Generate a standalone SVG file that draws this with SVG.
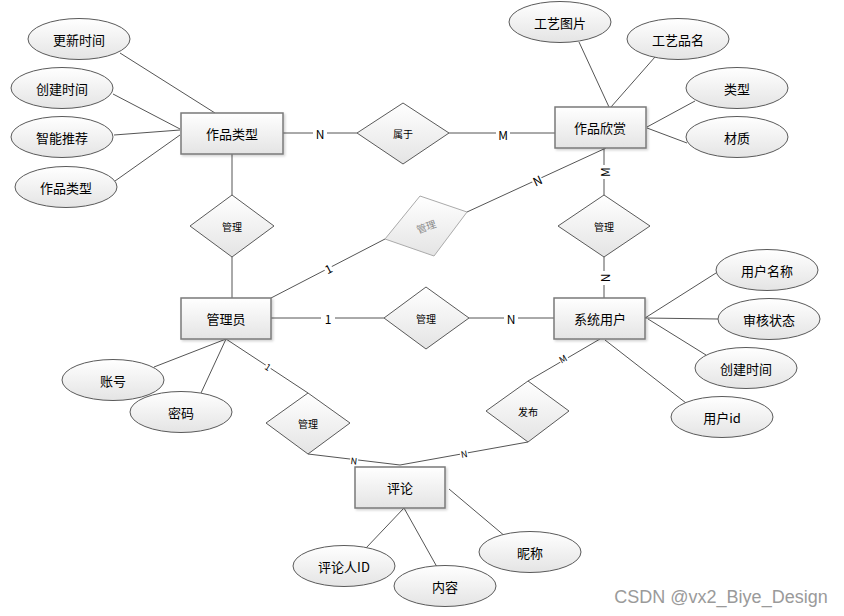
<svg xmlns="http://www.w3.org/2000/svg" width="844" height="616" viewBox="0 0 844 616">
<defs>
<linearGradient id="g" x1="0" y1="0" x2="0" y2="1">
<stop offset="0" stop-color="#ffffff"/>
<stop offset="1" stop-color="#e4e4e4"/>
</linearGradient>
<filter id="sh" x="-10%" y="-10%" width="125%" height="130%">
<feDropShadow dx="1.5" dy="1.5" stdDeviation="1" flood-color="#000" flood-opacity="0.18"/>
</filter>
</defs>
<style>
text{font-family:"Noto Sans CJK SC","Liberation Sans",sans-serif;fill:#000;text-anchor:middle;dominant-baseline:central}
.ent{fill:url(#g);stroke:#7a7a7a;stroke-width:1.5;filter:url(#sh)}
.att{fill:url(#g);stroke:#5a5a5a;stroke-width:1}
.rel{fill:url(#g);stroke:#5a5a5a;stroke-width:1}
.relg{fill:url(#g);stroke:#aaaaaa;stroke-width:1}
.et{font-size:13px}
.at{font-size:13px}
.rt{font-size:10px}
.lb{font-size:12px}
.sl{font-size:9px}
.bg{fill:#fff}
#connectors line{stroke:#555;stroke-width:1}
</style>
<rect width="844" height="616" fill="#fff"/>
<g id="connectors">
<line x1="120" y1="53" x2="215" y2="113"/>
<line x1="113" y1="94" x2="180" y2="129"/>
<line x1="114" y1="135" x2="180" y2="130"/>
<line x1="115" y1="181" x2="180" y2="135"/>
<line x1="283" y1="133" x2="357" y2="133"/>
<line x1="449" y1="133" x2="555" y2="133"/>
<line x1="232" y1="154" x2="232" y2="195"/>
<line x1="232" y1="257" x2="232" y2="298"/>
<line x1="579" y1="42" x2="609" y2="107"/>
<line x1="655" y1="57" x2="611" y2="107"/>
<line x1="695" y1="101" x2="647" y2="127"/>
<line x1="647" y1="128" x2="687" y2="143"/>
<line x1="604" y1="148" x2="604" y2="195"/>
<line x1="604" y1="257" x2="604" y2="298"/>
<line x1="271" y1="318" x2="384" y2="318"/>
<line x1="469" y1="318" x2="554" y2="318"/>
<line x1="271" y1="298" x2="385" y2="239"/>
<line x1="467" y1="212" x2="606" y2="148"/>
<line x1="645" y1="318" x2="716" y2="273"/>
<line x1="645" y1="318" x2="718" y2="319"/>
<line x1="648" y1="319" x2="706" y2="355"/>
<line x1="605" y1="340" x2="686" y2="403"/>
<line x1="600" y1="339" x2="528" y2="381"/>
<line x1="528" y1="442" x2="400" y2="465"/>
<line x1="226" y1="339" x2="308" y2="393"/>
<line x1="308" y1="454" x2="400" y2="465"/>
<line x1="226" y1="339" x2="154" y2="367"/>
<line x1="226" y1="339" x2="201" y2="393"/>
<line x1="404" y1="508" x2="366" y2="548"/>
<line x1="404" y1="508" x2="437" y2="567"/>
<line x1="449" y1="489" x2="506" y2="537"/>
</g>
<g id="labels">
<rect class="bg" x="313" y="126" width="14" height="14"/><text class="lb" x="320" y="133">N</text>
<rect class="bg" x="496" y="126" width="14" height="14"/><text class="lb" x="503" y="134">M</text>
<rect class="bg" x="598" y="165" width="12" height="14"/><text class="lb" x="604" y="172" transform="rotate(-90 604 172)">M</text>
<rect class="bg" x="598" y="271" width="12" height="14"/><text class="lb" x="604" y="278" transform="rotate(-90 604 278)">N</text>
<rect class="bg" x="321" y="311" width="14" height="14"/><text class="lb" x="328" y="318">1</text>
<rect class="bg" x="504" y="311" width="14" height="14"/><text class="lb" x="511" y="318">N</text>
<g transform="rotate(-27 328 268)"><rect class="bg" x="324" y="262" width="8" height="12"/><text class="lb" x="328" y="268">1</text></g>
<g transform="rotate(-25 537 180)"><rect class="bg" x="532" y="174" width="10" height="12"/><text class="lb" x="537" y="180">N</text></g>
<g transform="rotate(-30 563 359)"><rect class="bg" x="559" y="354" width="9" height="10"/><text class="sl" x="563" y="359">M</text></g>
<g transform="rotate(-10 464 454)"><rect class="bg" x="460" y="449" width="8" height="10"/><text class="sl" x="464" y="454">N</text></g>
<g transform="rotate(33 268 367)"><rect class="bg" x="265" y="362" width="6" height="10"/><text class="sl" x="268" y="367">1</text></g>
<g transform="rotate(7 354 461)"><rect class="bg" x="350" y="456" width="8" height="10"/><text class="sl" x="354" y="461">N</text></g>
</g>
<g id="e-zuopinleixing"><rect class="ent" x="181" y="113" width="102" height="41"/><text class="et" x="232" y="133">作品类型</text></g>
<g id="e-zuopinxinshang"><rect class="ent" x="555" y="107" width="91" height="41"/><text class="et" x="600" y="127">作品欣赏</text></g>
<g id="e-guanliyuan"><rect class="ent" x="181" y="298" width="90" height="41"/><text class="et" x="226" y="318">管理员</text></g>
<g id="e-xitongyonghu"><rect class="ent" x="554" y="298" width="91" height="41"/><text class="et" x="600" y="318">系统用户</text></g>
<g id="e-pinglun"><rect class="ent" x="355" y="467" width="90" height="41"/><text class="et" x="400" y="487">评论</text></g>
<g id="r-shuyu"><polygon class="rel" points="357,133 403,103 449,133 403,164"/><text class="rt" x="403" y="133">属于</text></g>
<g id="r-guanli1"><polygon class="rel" points="190,226 232,195 274,226 232,257"/><text class="rt" x="232" y="226">管理</text></g>
<g id="r-guanli2"><polygon class="rel" points="558,226 604,195 650,226 604,257"/><text class="rt" x="604" y="226">管理</text></g>
<g id="r-guanli3"><polygon class="rel" points="384,318 426,287 469,318 426,349"/><text class="rt" x="426" y="318">管理</text></g>
<g id="r-guanli4"><polygon class="relg" points="420,196 467,212 434,256 385,239"/><text class="rt" x="426" y="226" style="fill:#888" transform="rotate(-20 426 226)">管理</text></g>
<g id="r-guanli5"><polygon class="rel" points="266,423 308,393 350,423 308,454"/><text class="rt" x="308" y="423">管理</text></g>
<g id="r-fabu"><polygon class="rel" points="486,411 528,381 569,411 528,442"/><text class="rt" x="528" y="411">发布</text></g>
<g id="a-gengxinshijian"><ellipse class="att" cx="79" cy="39" rx="51" ry="20.5"/><text class="at" x="79" y="39">更新时间</text></g>
<g id="a-chuangjianshijian1"><ellipse class="att" cx="62" cy="88" rx="51" ry="20.5"/><text class="at" x="62" y="88">创建时间</text></g>
<g id="a-zhinengtuijian"><ellipse class="att" cx="62" cy="137" rx="51" ry="20.5"/><text class="at" x="62" y="137">智能推荐</text></g>
<g id="a-zuopinleixing"><ellipse class="att" cx="66" cy="187" rx="51" ry="20.5"/><text class="at" x="66" y="187">作品类型</text></g>
<g id="a-gongyitupian"><ellipse class="att" cx="560" cy="22" rx="51" ry="20.5"/><text class="at" x="560" y="22">工艺图片</text></g>
<g id="a-gongyipinming"><ellipse class="att" cx="678" cy="39" rx="51" ry="20.5"/><text class="at" x="678" y="39">工艺品名</text></g>
<g id="a-leixing"><ellipse class="att" cx="737" cy="88" rx="51" ry="20.5"/><text class="at" x="737" y="88">类型</text></g>
<g id="a-caizhi"><ellipse class="att" cx="737" cy="137" rx="51" ry="20.5"/><text class="at" x="737" y="137">材质</text></g>
<g id="a-yonghumingcheng"><ellipse class="att" cx="767" cy="270" rx="51" ry="20.5"/><text class="at" x="767" y="270">用户名称</text></g>
<g id="a-shenhezhuangtai"><ellipse class="att" cx="769" cy="319" rx="51" ry="20.5"/><text class="at" x="769" y="319">审核状态</text></g>
<g id="a-chuangjianshijian2"><ellipse class="att" cx="746" cy="368" rx="51" ry="20.5"/><text class="at" x="746" y="368">创建时间</text></g>
<g id="a-yonghuid"><ellipse class="att" cx="722" cy="417" rx="51" ry="20.5"/><text class="at" x="722" y="417">用户id</text></g>
<g id="a-zhanghao"><ellipse class="att" cx="113" cy="380" rx="51" ry="20.5"/><text class="at" x="113" y="380">账号</text></g>
<g id="a-mima"><ellipse class="att" cx="181" cy="412" rx="51" ry="20.5"/><text class="at" x="181" y="412">密码</text></g>
<g id="a-pinglunrenid"><ellipse class="att" cx="344" cy="566" rx="51" ry="20.5"/><text class="at" x="344" y="566">评论人ID</text></g>
<g id="a-neirong"><ellipse class="att" cx="445" cy="586" rx="51" ry="20.5"/><text class="at" x="445" y="586">内容</text></g>
<g id="a-nicheng"><ellipse class="att" cx="530" cy="552" rx="51" ry="20.5"/><text class="at" x="530" y="552">昵称</text></g>
<text x="721" y="597" style="font-family:'Liberation Sans',sans-serif;font-size:18px;fill:#9a9a9a">CSDN @vx2_Biye_Design</text>
</svg>
